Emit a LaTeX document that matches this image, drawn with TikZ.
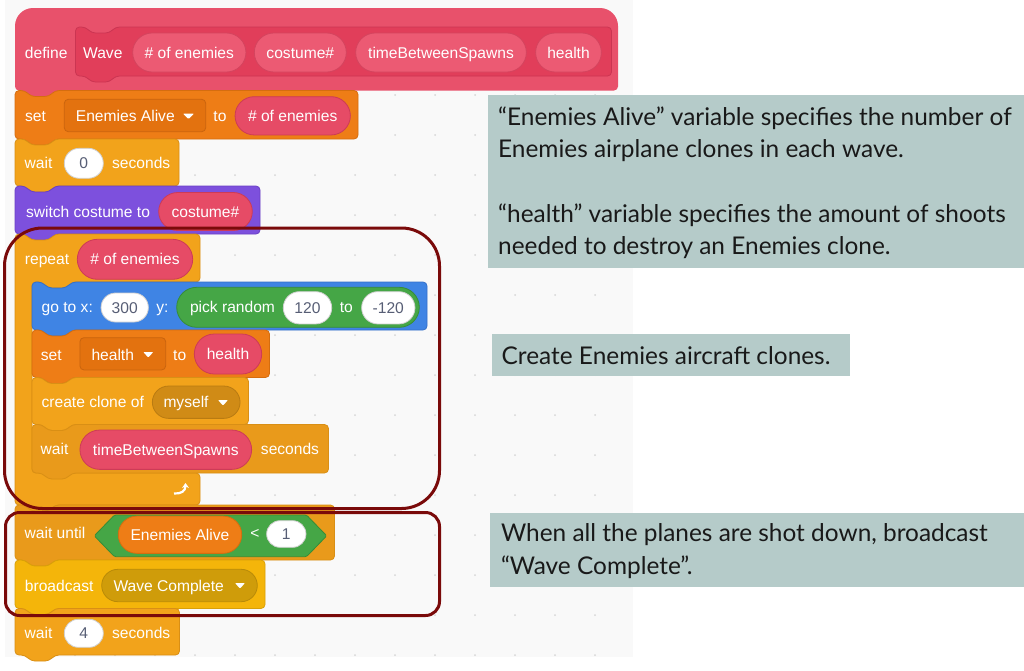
\documentclass[tikz,border=0pt]{standalone}
\usepackage{fontspec}
\setmainfont{Liberation Sans}
\newfontfamily\calloutfont{Lato}
\usetikzlibrary{shapes.misc,arrows.meta}
\definecolor{bgscratch}{HTML}{F9F9F9}
\definecolor{dotc}{HTML}{D6D6D6}
\definecolor{mypink}{HTML}{E8516B}
\definecolor{protoF}{HTML}{E13E5A}
\definecolor{protoB}{HTML}{CB3552}
\definecolor{argF}{HTML}{EC5A73}
\definecolor{argB}{HTML}{D4445E}
\definecolor{pinkrep}{HTML}{E64B66}
\definecolor{pinkrepB}{HTML}{CD3B56}
\definecolor{varF}{HTML}{EE7D16}
\definecolor{varB}{HTML}{D56D0F}
\definecolor{varD}{HTML}{E3720F}
\definecolor{varDB}{HTML}{C9640E}
\definecolor{ctrlF}{HTML}{F2A31B}
\definecolor{ctrlB}{HTML}{D98F15}
\definecolor{ctrlF2}{HTML}{E99A1B}
\definecolor{ctrlD}{HTML}{D08B16}
\definecolor{ctrlDB}{HTML}{B97B12}
\definecolor{looksF}{HTML}{7D50DD}
\definecolor{looksB}{HTML}{6A40C4}
\definecolor{motF}{HTML}{3F84E4}
\definecolor{motB}{HTML}{3570C8}
\definecolor{opF}{HTML}{45A646}
\definecolor{opB}{HTML}{368C37}
\definecolor{evF}{HTML}{F4B50A}
\definecolor{evB}{HTML}{D9A008}
\definecolor{evD}{HTML}{CF9C0A}
\definecolor{evDB}{HTML}{B88A08}
\definecolor{numtxt}{HTML}{575E75}
\definecolor{numB}{HTML}{D0D0D0}
\definecolor{boxred}{HTML}{7A0A0A}
\definecolor{callF}{HTML}{B5CBC9}
\newcommand{\sfz}{\fontsize{15.6}{18}\selectfont}
\newcommand{\cfz}{\calloutfont\fontsize{24.4}{28}\selectfont}
\newcommand{\stackblock}[5]{%
  \draw[#1] (#2,#3) -- ({#2+10},#3) -- ({#2+16},{#3+6}) -- ({#2+34},{#3+6}) -- ({#2+40},#3) -- (#4,#3) -- (#4,#5) -- ({#2+40},#5) -- ({#2+34},{#5+6}) -- ({#2+16},{#5+6}) -- ({#2+10},#5) -- (#2,#5) -- cycle;}
\newcommand{\ddtri}[3]{\fill[white, rounded corners=0.8pt] (#1,#3) -- (#2,#3) -- ({(#1+#2)/2},{#3+5.5}) -- cycle;}
\tikzset{
  blk/.style={line width=0.8pt, rounded corners=4pt},
  protoblk/.style={blk, fill=protoF, draw=protoB},
  varblk/.style={blk, fill=varF, draw=varB},
  ctrlblk/.style={blk, fill=ctrlF, draw=ctrlB},
  ctrlblktwo/.style={blk, fill=ctrlF2, draw=ctrlB},
  looksblk/.style={blk, fill=looksF, draw=looksB},
  motblk/.style={blk, fill=motF, draw=motB},
  evblk/.style={blk, fill=evF, draw=evB},
  lbl/.style={text=white, font=\sfz, inner sep=0pt, text height=11.2pt, text depth=0pt},
  pillbase/.style={rounded rectangle, inner sep=0pt, line width=0.8pt, font=\sfz, text height=11.2pt, text depth=0pt, text=white},
  argpill/.style={pillbase, fill=argF, draw=argB},
  reppill/.style={pillbase, fill=pinkrep, draw=pinkrepB},
  numpill/.style={pillbase, fill=white, draw=numB, text=numtxt},
  oppill/.style={pillbase, fill=opF, draw=opB},
  varpill/.style={pillbase, fill=varF, draw=varB},
  ctrlddpill/.style={pillbase, fill=ctrlD, draw=ctrlDB},
  evddpill/.style={pillbase, fill=evD, draw=evDB},
  dropbox/.style={rectangle, rounded corners=4pt, inner sep=0pt, fill=varD, draw=varDB, line width=0.8pt},
  ophex/.style={fill=opF, draw=opB, line width=0.8pt, rounded corners=1.5pt},
  redbox/.style={draw=boxred, line width=3pt},
  callbox/.style={fill=callF},
  ctext/.style={font=\cfz, text=black!90, inner sep=0pt, anchor=base west}
}
\begin{document}
\begin{tikzpicture}[x=1pt,y=-1pt]
\useasboundingbox (0,0) rectangle (1024,670);
\fill[white] (0,0) rectangle (1024,670);
\fill[bgscratch] (5,0) rectangle (633,657);
\foreach \i in {35,75,...,595} \foreach \j in {15,55,...,655} \fill[dotc] (\i,\j) circle[radius=1];

% define hat block
\fill[mypink, rounded corners=18pt] (15,8) rectangle (618,62);
\fill[mypink, rounded corners=4pt] (15,40) -- (618,40) -- (618,90.5) -- (55,90.5) -- (49,96.5) -- (31,96.5) -- (25,90.5) -- (15,90.5) -- cycle;
\stackblock{protoblk}{75.5}{27}{611.5}{76}
\node[lbl] (tdefine) at (46.2,52.5) {define};
\node[lbl] (twave) at (102.8,52.5) {Wave};
\node[argpill, minimum width=113.3, minimum height=39] (a1) at (189.3,52.5) {\# of enemies};
\node[argpill, minimum width=92, minimum height=39] (a2) at (300.3,52.5) {costume\#};
\node[argpill, minimum width=170.7, minimum height=39] (a3) at (441,52.5) {timeBetweenSpawns};
\node[argpill, minimum width=65.8, minimum height=39] (a4) at (568.5,52.5) {health};

% set Enemies Alive
\stackblock{varblk}{15}{90.5}{358}{139}
\node[lbl] (tset1) at (35.5,116) {set};
\node[dropbox, minimum width=141.4, minimum height=32.4] (dd1) at (135,115.5) {};
\node[lbl, anchor=west] (dd1t) at (75.7,116) {Enemies Alive};
\ddtri{183}{194}{113.5}
\node[lbl] (tto1) at (220,116) {to};
\node[reppill, minimum width=115.3, minimum height=38.3] (p1) at (292.7,115.8) {\# of enemies};

% wait 0 seconds
\stackblock{ctrlblk}{15}{139}{179}{186}
\node[lbl] (tw0) at (38.5,163.3) {wait};
\node[numpill, minimum width=39, minimum height=30] (n0) at (83.8,163.3) {0};
\node[lbl] (ts0) at (141.2,163.3) {seconds};

% switch costume
\stackblock{looksblk}{15}{186}{260}{234}
\node[lbl] (tsw) at (88,211.7) {switch costume to};
\node[reppill, minimum width=93.6, minimum height=38] (p2) at (205.5,211.5) {costume\#};

% repeat C block
\draw[ctrlblk] (15,234) -- (25,234) -- (31,240) -- (49,240) -- (55,234) -- (200,234) -- (200,282) -- (72,282) -- (66,288) -- (48,288) -- (42,282) -- (32,282) -- (32,473) -- (200,473) -- (200,505) -- (55,505) -- (49,511) -- (31,511) -- (25,505) -- (15,505) -- cycle;
\node[lbl] (trep) at (47,259.3) {repeat};
\node[reppill, minimum width=115.4, minimum height=40] (p3) at (135,259.3) {\# of enemies};
\coordinate (arrS) at (174,493.5);
\coordinate (arrE) at (185.5,483);
\draw[white, line width=2.2pt, -{Stealth[length=5pt,width=7pt]}] (arrS) .. controls (181,494) and (185.5,491) .. (arrE);

% go to x y
\stackblock{motblk}{32}{282}{427}{330}
\node[lbl] (tgo) at (67.3,307.3) {go to x:};
\node[numpill, minimum width=47.3, minimum height=29] (n300) at (124.7,307.5) {300};
\node[lbl] (ty) at (162.5,307.3) {y:};
\node[oppill, minimum width=242.6, minimum height=40] (rnd) at (298,307.3) {};
\node[lbl] (tpick) at (232.5,307.3) {pick random};
\node[numpill, minimum width=48.4, minimum height=32.3] (n120) at (307.5,307.8) {120};
\node[lbl] (tto2) at (346.3,307.3) {to};
\node[numpill, minimum width=53.3, minimum height=32.3] (nm120) at (388.3,307.8) {-120};

% set health
\stackblock{varblk}{32}{330}{269.5}{377.5}
\node[lbl] (tset2) at (51.3,354.5) {set};
\node[dropbox, minimum width=85.7, minimum height=32.3] (dd2) at (122.8,353.8) {};
\node[lbl, anchor=west] (dd2t) at (91.3,354.5) {health};
\ddtri{143.3}{153.3}{352}
\node[lbl] (tto3) at (179.7,354.5) {to};
\node[reppill, minimum width=67.4, minimum height=40] (p4) at (228,354) {health};

% create clone
\stackblock{ctrlblk}{32}{377.5}{248.5}{424.5}
\node[lbl] (tcc) at (92.8,402.3) {create clone of};
\node[ctrlddpill, minimum width=87.7, minimum height=32.3] (dd3) at (196.2,402.2) {};
\node[lbl, anchor=west] (dd3t) at (163.3,402.3) {myself};
\ddtri{218}{228}{400}

% wait timeBetweenSpawns
\stackblock{ctrlblktwo}{32}{424.5}{328.5}{473}
\node[lbl] (tw2) at (54.5,449.3) {wait};
\node[reppill, minimum width=171.7, minimum height=39.3] (p5) at (165.8,449.7) {timeBetweenSpawns};
\node[lbl] (ts2) at (290,449.3) {seconds};

% wait until
\stackblock{ctrlblktwo}{15}{505}{334.5}{560}
\node[lbl] (twu) at (55,533.3) {wait until};
\draw[ophex] (94.3,535.8) -- (114.5,515) -- (306.5,515) -- (326.7,535.8) -- (306.5,556.7) -- (114.5,556.7) -- cycle;
\node[varpill, minimum width=123.4, minimum height=37.3] (ea) at (180,534.7) {Enemies Alive};
\node[lbl] (tlt) at (255,533.3) {<};
\node[numpill, minimum width=39.3, minimum height=26.6] (n1) at (286.3,534) {1};

% broadcast
\stackblock{evblk}{15}{560}{265}{608.5}
\node[lbl] (tbc) at (59.2,585.7) {broadcast};
\node[evddpill, minimum width=155.6, minimum height=32.4] (dd4) at (179.5,585.5) {};
\node[lbl, anchor=west] (dd4t) at (113.3,585.7) {Wave Complete};
\ddtri{235}{245}{583}

% wait 4 seconds
\stackblock{ctrlblk}{15}{608.5}{179.5}{655}
\node[lbl] (tw4) at (38.5,632.7) {wait};
\node[numpill, minimum width=39, minimum height=28] (n4) at (83.8,633.3) {4};
\node[lbl] (ts4) at (141.2,632.7) {seconds};

% red highlight boxes
\draw[redbox, rounded corners=38pt] (4.5,228) rectangle (439.5,508.5);
\draw[redbox, rounded corners=14pt] (5.5,512.5) rectangle (439.5,615.5);

% callouts
\fill[callbox] (488,95) rectangle (1024,268);
\node[ctext] (c1) at (498,125) {“Enemies Alive” variable specifies the number of};
\node[ctext] (c2) at (498,157.3) {Enemies airplane clones in each wave.};
\node[ctext] (c3) at (498,222.7) {“health” variable specifies the amount of shoots};
\node[ctext] (c4) at (498,254) {needed to destroy an Enemies clone.};
\fill[callbox] (491.5,334) rectangle (849.5,376);
\node[ctext] (c5) at (501.5,364) {Create Enemies aircraft clones.};
\fill[callbox] (489.7,512.7) rectangle (1024,587.3);
\node[ctext] (c6) at (500.8,541.7) {When all the planes are shot down, broadcast};
\node[ctext] (c7) at (500.8,574) {“Wave Complete”.};
\end{tikzpicture}
\end{document}
